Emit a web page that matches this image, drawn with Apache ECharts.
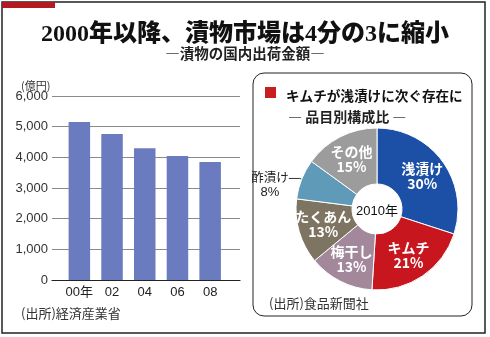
<!DOCTYPE html>
<html>
<head>
<meta charset="utf-8">
<script src="https://cdn.jsdelivr.net/npm/echarts@6/dist/echarts.min.js"></script>
<style>
html,body{margin:0;padding:0;background:#fff;}
#c{width:490px;height:337px;}
</style>
</head>
<body>
<div id="c"></div>
<script>
const years = ['00年', '02', '04', '06', '08'];
const shipments = [5150, 4760, 4300, 4040, 3850];
const yTicks = [0, 1000, 2000, 3000, 4000, 5000, 6000];

const pieNames = ['浅漬け', 'キムチ', '梅干し', 'たくあん', '酢漬け', 'その他'];
const pieValues = [30, 21, 13, 13, 8, 15];
const pieColors = ['#1b50a6', '#c8161f', '#a3879b', '#7e7462', '#5f9bb8', '#9c9c9c'];

const JP = '"Noto Sans CJK JP", "Noto Sans", sans-serif';
const LAT = '"Liberation Sans", "Noto Sans CJK JP", sans-serif';
const chart = echarts.init(document.getElementById('c'), null, {renderer: 'canvas'});

const pieData = pieNames.map((n, i) => {
  const d = {name: n, value: pieValues[i], itemStyle: {color: pieColors[i]}};
  if (n === '酢漬け') {
    d.label = {
      position: 'outside',
      color: '#222',
      fontWeight: 'normal',
      distanceToLabelLine: 0,
      padding: [13, 0, 0, 0],
      formatter: '{a|{b}}\n{c|{c}%}',
      rich: {
        a: {fontSize: 12.5, color: '#222', fontFamily: JP, lineHeight: 15},
        c: {fontSize: 13, color: '#222', fontFamily: 'Liberation Sans', width: 38, align: 'center', lineHeight: 15}
      }
    };
    d.labelLine = {show: true, length: 2, length2: 11, lineStyle: {color: '#333', width: 1}};
  }
  return d;
});

const option = {
  animation: false,
  backgroundColor: '#fff',
  title: [
    {text: '2000年以降、漬物市場は4分の3に縮小', left: 'center', top: 18,
     textStyle: {fontFamily: '"Liberation Serif", "Noto Sans CJK JP", serif', fontWeight: 900, fontSize: 24, color: '#111'}},
    {text: '―漬物の国内出荷金額―', left: 'center', top: 41,
     textStyle: {fontFamily: JP, fontWeight: 'bold', fontSize: 14.5, color: '#222'}},
    {text: '(億円)', left: 16, top: 75,
     textStyle: {fontFamily: JP, fontWeight: 'normal', fontSize: 11, color: '#333'}},
    {text: '(出所)経済産業省', left: 16, top: 302,
     textStyle: {fontFamily: JP, fontWeight: 'normal', fontSize: 13, color: '#333'}},
    {text: 'キムチが浅漬けに次ぐ存在に', left: 281, top: 84,
     textStyle: {fontFamily: JP, fontWeight: 'bold', fontSize: 13.6, color: '#111'}},
    {text: '― 品目別構成比 ―', left: 283, top: 105,
     textStyle: {fontFamily: JP, fontWeight: 'bold', fontSize: 14, color: '#222'}},
    {text: '(出所)食品新聞社', left: 264, top: 292,
     textStyle: {fontFamily: JP, fontWeight: 'normal', fontSize: 13, color: '#333'}}
  ],
  graphic: [
    {type: 'rect', shape: {x: 2, y: 2, width: 483, height: 331}, style: {fill: 'none', stroke: '#222', lineWidth: 1.5}, z: 0},
    {type: 'rect', shape: {x: 2, y: 2, width: 53, height: 6}, style: {fill: '#b31b22'}, z: 1},
    {type: 'rect', shape: {x: 253, y: 73, width: 219, height: 243, r: 11}, style: {fill: 'none', stroke: '#222', lineWidth: 1}, z: 0},
    {type: 'rect', shape: {x: 265, y: 87, width: 11, height: 11}, style: {fill: '#c81e22'}, z: 1},
    {type: 'text', x: 377, y: 211, z: 100,
     style: {text: '2010年', align: 'center', verticalAlign: 'middle', fill: '#111',
             font: '13px "Liberation Sans", "Noto Sans CJK JP", sans-serif'}}
  ],
  grid: [
    {left: 52, width: 188, top: 96, height: 184},
    {left: 63, width: 163.5, top: 96, height: 184}
  ],
  xAxis: [
    {gridIndex: 0, type: 'value', min: 0, max: 1, axisLabel: {show: false}, axisTick: {show: false},
     splitLine: {show: false}, axisLine: {show: true, onZero: false, lineStyle: {color: '#222', width: 1.2}}},
    {gridIndex: 1, type: 'category', data: years, axisTick: {show: false}, axisLine: {show: false},
     axisLabel: {interval: 0, fontSize: 13, color: '#222', margin: 6, fontFamily: LAT}}
  ],
  yAxis: [
    {gridIndex: 0, type: 'value', min: yTicks[0], max: yTicks[yTicks.length - 1], interval: yTicks[1] - yTicks[0],
     axisLine: {show: false}, axisTick: {show: false},
     axisLabel: {fontSize: 13, color: '#333', margin: 4, fontFamily: 'Liberation Sans',
                 formatter: v => v.toLocaleString('en-US')},
     splitLine: {lineStyle: {color: '#8a8a8a', width: 1}}},
    {gridIndex: 1, type: 'value', min: yTicks[0], max: yTicks[yTicks.length - 1], show: false, splitLine: {show: false}}
  ],
  series: [
    {type: 'bar', xAxisIndex: 1, yAxisIndex: 1, data: shipments, barWidth: 21.5,
     itemStyle: {color: '#6a7cbf'}, z: 3},
    {type: 'pie', center: [377, 209], radius: [25, 81], startAngle: 90, clockwise: true,
     avoidLabelOverlap: false,
     itemStyle: {borderColor: '#fff', borderWidth: 1},
     label: {show: true, position: 'inside', color: '#fff', fontWeight: 'bold', fontSize: 14,
             fontFamily: JP, lineHeight: 15, formatter: '{b}\n{c}%'},
     labelLine: {show: false},
     emphasis: {disabled: true},
     data: pieData}
  ]
};
chart.setOption(option);
</script>
</body>
</html>
